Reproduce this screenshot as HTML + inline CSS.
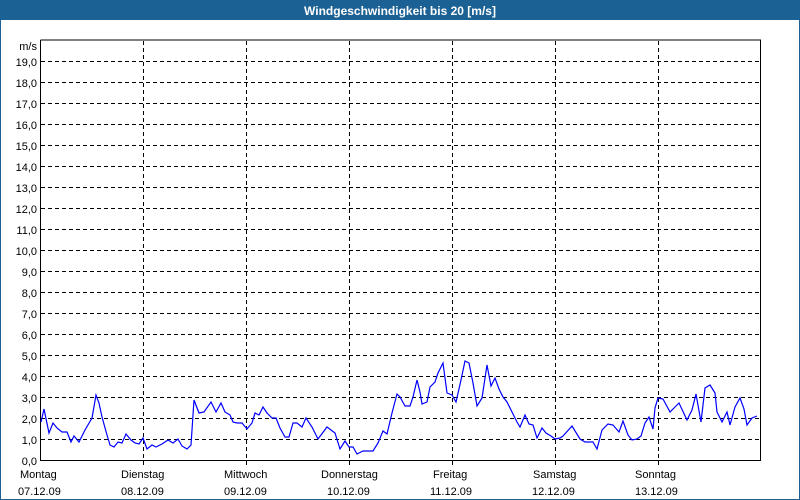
<!DOCTYPE html>
<html><head><meta charset="utf-8"><style>
html,body{margin:0;padding:0;background:#fff}
svg{display:block}
text{font-family:"Liberation Sans",Verdana,sans-serif;font-size:11px;fill:#000}
</style></head><body>
<svg width="800" height="500" xmlns="http://www.w3.org/2000/svg">
<rect x="0" y="0" width="800" height="500" fill="#fff"/>
<rect x="0" y="0" width="800" height="20" fill="#1c6194"/>
<rect x="0.5" y="0.5" width="799" height="499" fill="none" stroke="#1c6194"/>
<text x="400" y="15" text-anchor="middle" style="fill:#fff;font-weight:bold;font-size:12px">Windgeschwindigkeit bis 20 [m/s]</text>
<g stroke="#000" stroke-width="1" stroke-dasharray="4,3" fill="none">
<path d="M41 61.5H760M41 82.5H760M41 103.5H760M41 124.5H760M41 145.5H760M41 166.5H760M41 187.5H760M41 208.5H760M41 229.5H760M41 250.5H760M41 271.5H760M41 292.5H760M41 313.5H760M41 334.5H760M41 355.5H760M41 376.5H760M41 397.5H760M41 418.5H760M41 439.5H760"/>
<path d="M143.5 41V466M246.5 41V466M349.5 41V466M452.5 41V466M555.5 41V466M658.5 41V466"/>
</g>
<path d="M40.5 40V460.5H760.5V40H40.5" fill="none" stroke="#000"/>
<g text-anchor="end">
<text x="37" y="50">m/s</text>
<text x="37" y="66">19,0</text><text x="37" y="87">18,0</text><text x="37" y="108">17,0</text><text x="37" y="129">16,0</text><text x="37" y="150">15,0</text><text x="37" y="171">14,0</text><text x="37" y="192">13,0</text><text x="37" y="213">12,0</text><text x="37" y="234">11,0</text><text x="37" y="255">10,0</text><text x="37" y="276">9,0</text><text x="37" y="297">8,0</text><text x="37" y="318">7,0</text><text x="37" y="339">6,0</text><text x="37" y="360">5,0</text><text x="37" y="381">4,0</text><text x="37" y="402">3,0</text><text x="37" y="423">2,0</text><text x="37" y="444">1,0</text><text x="37" y="465">0,0</text>
</g>
<text x="20" y="478">Montag</text><text x="18" y="495">07.12.09</text>
<text x="121" y="478">Dienstag</text><text x="121" y="495">08.12.09</text>
<text x="224" y="478">Mittwoch</text><text x="224" y="495">09.12.09</text>
<text x="321" y="478">Donnerstag</text><text x="327" y="495">10.12.09</text>
<text x="433" y="478">Freitag</text><text x="430" y="495">11.12.09</text>
<text x="533" y="478">Samstag</text><text x="532" y="495">12.12.09</text>
<text x="635" y="478">Sonntag</text><text x="635" y="495">13.12.09</text>
<polyline fill="none" stroke="#0000ff" stroke-width="1.2" points="41,422 44,409 49,433 53,423 57,428 62,432 67,432 71,442 74,436 79,442 85,430 92,418 96,395 99,403 102,417 107,435 110,445 114,447 118,442 122,443 126,434 131,440 135,443 139,444 143,438 147,449 152,445 156,447 162,444 168,440 173,443 178,439 182,446 187,449 191,445 194,400 199,413 204,412 211,402 216,412 221,403 225,412 230,415 233,422 237,423 242,423 247,429 252,423 255,413 259,415 263,407 267,413 272,418 276,418 280,428 285,437 289,437 293,423 297,423 302,427 306,418 312,427 318,439 327,427 335,433 340,449 345,441 349,447 353,447 357,454 363,451 368,451 373,451 378,443 383,431 387,434 392,413 397,394 400,397 405,406 410,406 413,397 417,380 420,392 422,404 427,402 430,387 435,382 438,373 443,363 447,393 452,395 456,402 461,380 465,361 469,363 473,383 477,406 482,398 487,365 491,386 495,378 499,389 503,397 507,402 512,412 517,422 520,427 525,415 529,424 533,425 537,438 542,428 546,433 551,436 555,439 560,438 563,436 572,426 580,439 585,442 593,442 597,449 602,430 608,424 613,425 619,432 623,421 628,435 632,440 637,439 641,436 645,423 649,417 653,429 655,408 658,398 663,399 670,412 675,407 679,403 687,420 692,410 696,394 701,422 705,388 710,385 715,393 717,412 722,422 727,412 730,425 735,407 740,398 744,409 747,425 752,418 757,416"/>
</svg>
</body></html>
